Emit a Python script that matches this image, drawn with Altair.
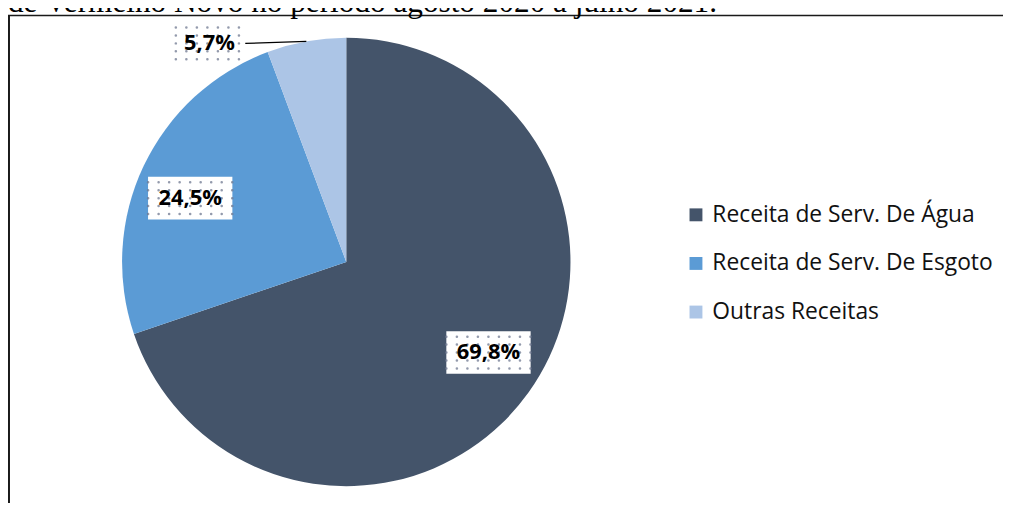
import altair as alt
import pandas as pd

# ---- data ----
categorias = ["Receita de Serv. De Água", "Receita de Serv. De Esgoto", "Outras Receitas"]
valores = [69.8, 24.5, 5.7]
rotulos = ["69,8%", "24,5%", "5,7%"]
cores = ["#44546A", "#5B9BD5", "#ACC5E6"]
titulo = ["de Vermelho Novo no período agosto 2020 a julho 2021."]

df = pd.DataFrame({"categoria": categorias, "valor": valores,
                   "rotulo": rotulos, "ordem": list(range(len(categorias)))})
df_tit = pd.DataFrame({"t": titulo})

# ---- geometry ----
W, H = 1003, 497
CX, CY, R = 341, 254, 226

xs = alt.Scale(domain=[0, W], range=[0, W])
ys = alt.Scale(domain=[0, H], range=[0, H])

base = (
    alt.Chart(df)
    .transform_window(cum="sum(valor)", sort=[alt.SortField("ordem")], frame=[None, 0])
    .transform_joinaggregate(total="sum(valor)")
    .transform_calculate(
        mid="(datum.cum - datum.valor/2)/datum.total*2*PI",
        fora="datum.valor < 10",
    )
    .transform_calculate(
        ang="datum.fora ? datum.mid - 0.38 : datum.mid - 0.055",
        rr=f"datum.fora ? {1.15 * R} : {0.752 * R}",
    )
    .transform_calculate(
        lx=f"{CX} + datum.rr*sin(datum.ang)",
        ly=f"{CY} - datum.rr*cos(datum.ang)",
        hw="length(datum.rotulo)*8.5",
        hh="datum.fora ? 19 : 21.5",
        ex=f"{CX} + {R}*sin(datum.mid)",
        ey=f"{CY} - {R}*cos(datum.mid)",
    )
    .transform_calculate(
        x1="datum.lx - datum.hw",
        x2="datum.lx + datum.hw",
        y1="datum.ly - datum.hh",
        y2="datum.ly + datum.hh",
        lsx="datum.lx + datum.hw + 2",
    )
)

pie = alt.Chart(df).mark_arc(outerRadius=R).encode(
    theta=alt.Theta("valor:Q", stack=True),
    order=alt.Order("ordem:Q"),
    color=alt.Color(
        "categoria:N",
        scale=alt.Scale(domain=categorias, range=cores),
        legend=alt.Legend(
            title=None, orient="none", legendX=682, legendY=195,
            symbolType="square", symbolSize=169, symbolStrokeWidth=0,
            labelFont="Open Sans", labelFontSize=23, labelColor="#111111",
            labelOffset=5, rowPadding=25, padding=0, labelLimit=400,
        ),
    ),
    x=alt.value(CX),
    y=alt.value(CY),
)

leader = base.transform_filter("datum.fora").mark_rule(color="#000000", strokeWidth=1.3).encode(
    x=alt.X("lsx:Q", scale=xs, axis=None), x2="ex:Q",
    y=alt.Y("ly:Q", scale=ys, axis=None), y2="ey:Q",
)

boxes = base.mark_rect(color="white").encode(
    x=alt.X("x1:Q", scale=xs, axis=None), x2="x2:Q",
    y=alt.Y("y1:Q", scale=ys, axis=None), y2="y2:Q",
)

dot_layers = []
for off in [-16, -8, 0, 8, 16]:
    dot_layers.append(
        base.mark_rule(color="#6f7890", strokeWidth=2.5, strokeCap="round",
                       strokeDash=[0.1, 10.5], opacity=0.75, yOffset=off).encode(
            x=alt.X("x1:Q", scale=xs, axis=None), x2="x2:Q",
            y=alt.Y("ly:Q", scale=ys, axis=None),
        )
    )

texts = base.mark_text(font="Open Sans", fontWeight="bold", fontSize=22,
                       color="#000000", align="center", baseline="middle").encode(
    x=alt.X("lx:Q", scale=xs, axis=None),
    y=alt.Y("ly:Q", scale=ys, axis=None),
    text="rotulo:N",
)

frame_top = alt.Chart(df_tit).mark_rule(color="#1a1a1a", strokeWidth=1.5).encode(
    x=alt.value(0), x2=alt.value(W), y=alt.value(5.5)
)
frame_left = alt.Chart(df_tit).mark_rule(color="#1a1a1a", strokeWidth=2).encode(
    x=alt.value(1), y=alt.value(5), y2=alt.value(H)
)
title = alt.Chart(df_tit).mark_text(font="Liberation Serif", fontSize=31.5, color="#000000",
                                    align="left", baseline="alphabetic").encode(
    x=alt.value(0), y=alt.value(2.5), text="t:N"
)

chart = alt.layer(
    frame_top, frame_left, pie, leader, boxes, *dot_layers, texts, title
).properties(
    width=W, height=H, padding=0, autosize=alt.AutoSizeParams(type="none"),
    background="white",
).configure_view(stroke=None)

chart.save("out.html", embed_options={"renderer": "svg", "actions": False})
